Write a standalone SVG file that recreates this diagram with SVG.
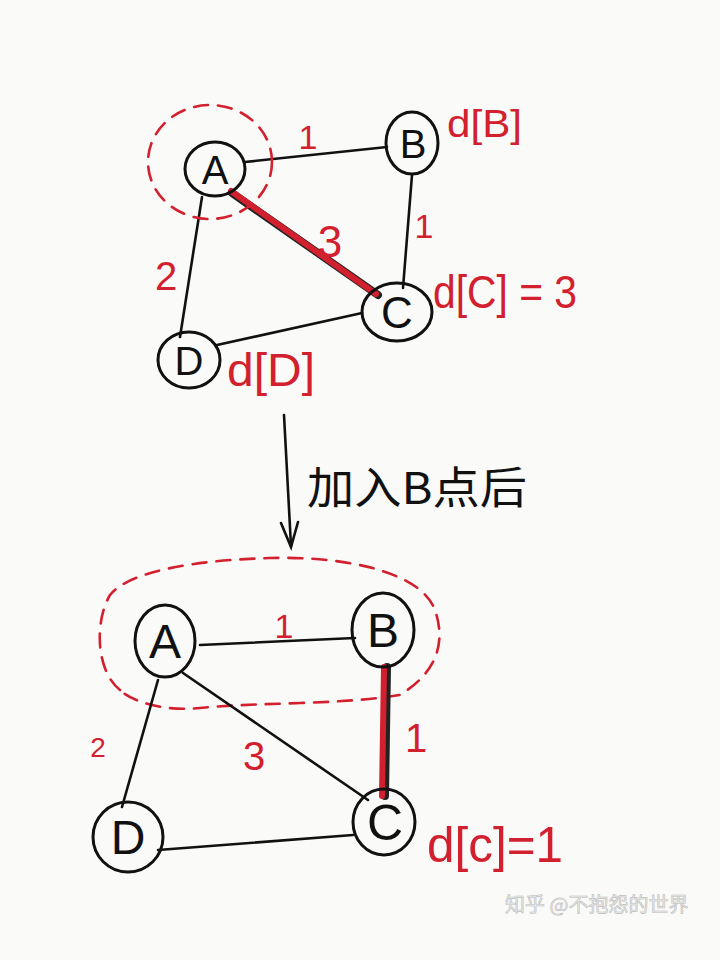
<svg xmlns="http://www.w3.org/2000/svg" width="720" height="960" viewBox="0 0 720 960">
<style>
.node ellipse{fill:none;stroke:#111;stroke-width:3}
.node text{font-family:"Liberation Sans","DejaVu Sans",sans-serif;fill:#111;text-anchor:middle}
.edge{stroke:#111;stroke-width:2.6;fill:none;stroke-linecap:round}
.hl-bg{stroke:#222;stroke-width:8;stroke-linecap:round}
.hl{stroke:#d3202e;stroke-width:6;stroke-linecap:round}
.dash{fill:none;stroke:#d3202e;stroke-width:2.6;stroke-dasharray:14 10;stroke-linecap:round}
.lbl{font-family:"Liberation Sans","DejaVu Sans",sans-serif;fill:#d3202e;text-anchor:middle}
.note{font-family:"Liberation Sans","DejaVu Sans",sans-serif;fill:#d3202e}
</style>
<rect width="720" height="960" fill="#fafaf8"/>

<!-- top graph connectors -->
<g id="top-edges">
<line class="edge" x1="245" y1="162" x2="387" y2="147"/>
<line class="edge" x1="412" y1="175" x2="403" y2="288"/>
<line class="edge" x1="202" y1="197" x2="180" y2="337"/>
<line class="edge" x1="217" y1="345" x2="362" y2="313"/>
<line class="hl-bg" x1="232" y1="193" x2="378" y2="295"/>
<line class="hl" x1="231" y1="191" x2="376" y2="294"/>
</g>
<ellipse id="top-A-dash" class="dash" cx="210" cy="162" rx="62" ry="57"/>

<g id="top-A" class="node"><ellipse cx="215" cy="169" rx="30" ry="27"/><text x="215" y="184" font-size="40">A</text></g>
<g id="top-B" class="node"><ellipse cx="412" cy="143" rx="26" ry="31"/><text x="413" y="158" font-size="40">B</text></g>
<g id="top-C" class="node"><ellipse cx="397" cy="312" rx="35" ry="29"/><text x="397" y="328" font-size="44">C</text></g>
<g id="top-D" class="node"><ellipse cx="189" cy="360" rx="31" ry="28"/><text x="189" y="375" font-size="40">D</text></g>

<g id="top-labels">
<text class="lbl" x="308" y="149" font-size="34">1</text>
<text class="lbl" x="330" y="257" font-size="44">3</text>
<text class="lbl" x="424" y="238" font-size="34">1</text>
<text class="lbl" x="166" y="290" font-size="40">2</text>
<text class="note" x="447" y="137" font-size="38" textLength="75" lengthAdjust="spacingAndGlyphs">d[B]</text>
<text class="note" x="433" y="308" font-size="46" textLength="144" lengthAdjust="spacingAndGlyphs">d[C] = 3</text>
<text class="note" x="227" y="386" font-size="46" textLength="88" lengthAdjust="spacingAndGlyphs">d[D]</text>
</g>

<!-- arrow -->
<g id="arrow">
<line class="edge" x1="284" y1="415" x2="291" y2="546" stroke-width="3"/>
<polyline class="edge" points="281,523 291,547 298,522" stroke-width="3"/>
<text x="307" y="504" font-size="44" textLength="220" lengthAdjust="spacingAndGlyphs" font-family="'Noto Sans CJK SC','Noto Sans',sans-serif" fill="#111">加入B点后</text>
</g>

<!-- bottom graph -->
<path id="bottom-dash" class="dash" d="M120,690 C95,670 95,620 110,595 C130,570 200,560 270,558 C340,556 420,570 435,610 C445,640 440,670 400,695 C340,705 260,702 200,708 C160,712 130,700 120,690 Z"/>
<g id="bottom-edges">
<line class="edge" x1="200" y1="645" x2="355" y2="638"/>
<line class="edge" x1="183" y1="673" x2="368" y2="800"/>
<line class="edge" x1="158" y1="680" x2="122" y2="807"/>
<line class="edge" x1="158" y1="850" x2="353" y2="835"/>
<line class="hl-bg" x1="387" y1="667" x2="385" y2="796"/>
<line class="hl" x1="384" y1="667" x2="382" y2="796"/>
</g>

<g id="bot-A" class="node"><ellipse cx="165" cy="641" rx="30" ry="36"/><text x="165" y="658" font-size="48">A</text></g>
<g id="bot-B" class="node"><ellipse cx="383" cy="630" rx="31" ry="37"/><text x="383" y="647" font-size="48">B</text></g>
<g id="bot-C" class="node"><ellipse cx="384" cy="822" rx="31" ry="33"/><text x="385" y="840" font-size="50">C</text></g>
<g id="bot-D" class="node"><ellipse cx="128" cy="837" rx="35" ry="35"/><text x="128" y="854" font-size="48">D</text></g>

<g id="bottom-labels">
<text class="lbl" x="284" y="638" font-size="34">1</text>
<text class="lbl" x="416" y="752" font-size="40">1</text>
<text class="lbl" x="254" y="770" font-size="40">3</text>
<text class="lbl" x="98" y="757" font-size="28">2</text>
<text class="note" x="427" y="862" font-size="50" textLength="136" lengthAdjust="spacingAndGlyphs">d[c]=1</text>
</g>

<text id="watermark" x="505" y="912" font-size="20" font-family="'Noto Sans CJK SC',sans-serif" fill="#ececec" stroke="#bdbdbd" stroke-width="0.6">知乎 @不抱怨的世界</text>
</svg>
